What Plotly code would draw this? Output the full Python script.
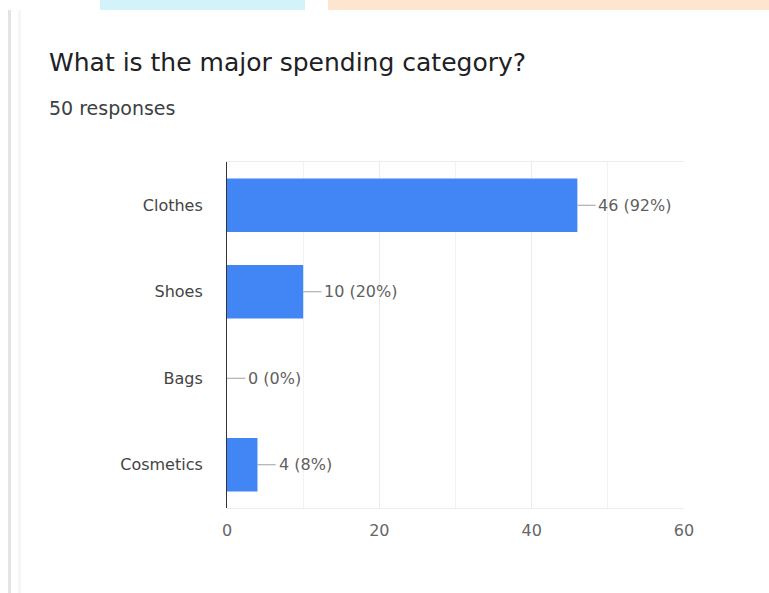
import plotly.graph_objects as go

categories = ["Clothes", "Shoes", "Bags", "Cosmetics"]
counts = [46, 10, 0, 4]
total_responses = 50
x_ticks = [0, 20, 40, 60]

labels = [f"{c} ({round(c * 100 / total_responses)}%)" for c in counts]

W, H = 769, 593
L, R, T, B = 227, 85, 162, 85
PW, PH = W - L - R, H - T - B
FONT = "DejaVu Sans"


def px(x):
    return (x - L) / PW


def py(y):
    return (H - B - y) / PH


fig = go.Figure()
fig.add_trace(go.Bar(
    x=counts, y=categories, orientation="h",
    marker=dict(color="#4285f4", line=dict(width=0)),
    width=0.62, hoverinfo="skip",
))

# leader lines
lx, ly = [], []
for c, cat in zip(counts, categories):
    lx += [c, c + 2.4, None]
    ly += [cat, cat, None]
fig.add_trace(go.Scatter(x=lx, y=ly, mode="lines",
                         line=dict(color="#a0a0a0", width=1), hoverinfo="skip"))

for c, cat, lab in zip(counts, categories, labels):
    fig.add_annotation(x=c + 2.5, y=cat, text=lab, showarrow=False,
                       xanchor="left", yanchor="middle",
                       font=dict(family=FONT, size=16, color="#5f5f5f"))

fig.add_annotation(xref="paper", yref="paper", x=px(47), y=py(63),
                   text="What is the major spending category?", showarrow=False,
                   xanchor="left", yanchor="middle",
                   font=dict(family=FONT, size=25, color="#202124"))
fig.add_annotation(xref="paper", yref="paper", x=px(47), y=py(108),
                   text=f"{total_responses} responses", showarrow=False,
                   xanchor="left", yanchor="middle",
                   font=dict(family=FONT, size=19, color="#3c4043"))

shapes = [
    dict(type="rect", xref="paper", yref="paper", x0=px(100), x1=px(305), y0=py(10), y1=py(0),
         fillcolor="#d3f3fa", line=dict(width=0), layer="below"),
    dict(type="rect", xref="paper", yref="paper", x0=px(328), x1=px(769), y0=py(10), y1=py(0),
         fillcolor="#fde5d0", line=dict(width=0), layer="below"),
    dict(type="rect", xref="paper", yref="paper", x0=px(8), x1=px(11), y0=py(593), y1=py(10),
         fillcolor="#e4e4e4", line=dict(width=0), layer="below"),
    dict(type="rect", xref="paper", yref="paper", x0=px(18), x1=px(21), y0=py(593), y1=py(10),
         fillcolor="#f6f6f6", line=dict(width=0), layer="below"),
]

fig.update_layout(
    width=W, height=H,
    margin=dict(l=L, r=R, t=T, b=B),
    paper_bgcolor="white", plot_bgcolor="white",
    showlegend=False, bargap=0.4,
    shapes=shapes,
    xaxis=dict(range=[0, 60], tickvals=x_ticks, showgrid=True, gridcolor="#ececec",
               minor=dict(dtick=10, showgrid=True, gridcolor="#f2f2f2"),
               zeroline=False, showline=True, linecolor="#ececec", mirror=True,
               ticks="", ticklabelstandoff=8,
               tickfont=dict(family=FONT, size=16, color="#666666"),
               fixedrange=True),
    yaxis=dict(categoryorder="array", categoryarray=categories, autorange="reversed",
               showgrid=False, zeroline=False, showline=True, linecolor="#333333", linewidth=1,
               ticks="", ticklabelstandoff=20,
               tickfont=dict(family=FONT, size=16, color="#444444"), fixedrange=True),
)

fig.write_html("out.html", config={"displayModeBar": False},
               post_script="document.body.style.margin='0';")
